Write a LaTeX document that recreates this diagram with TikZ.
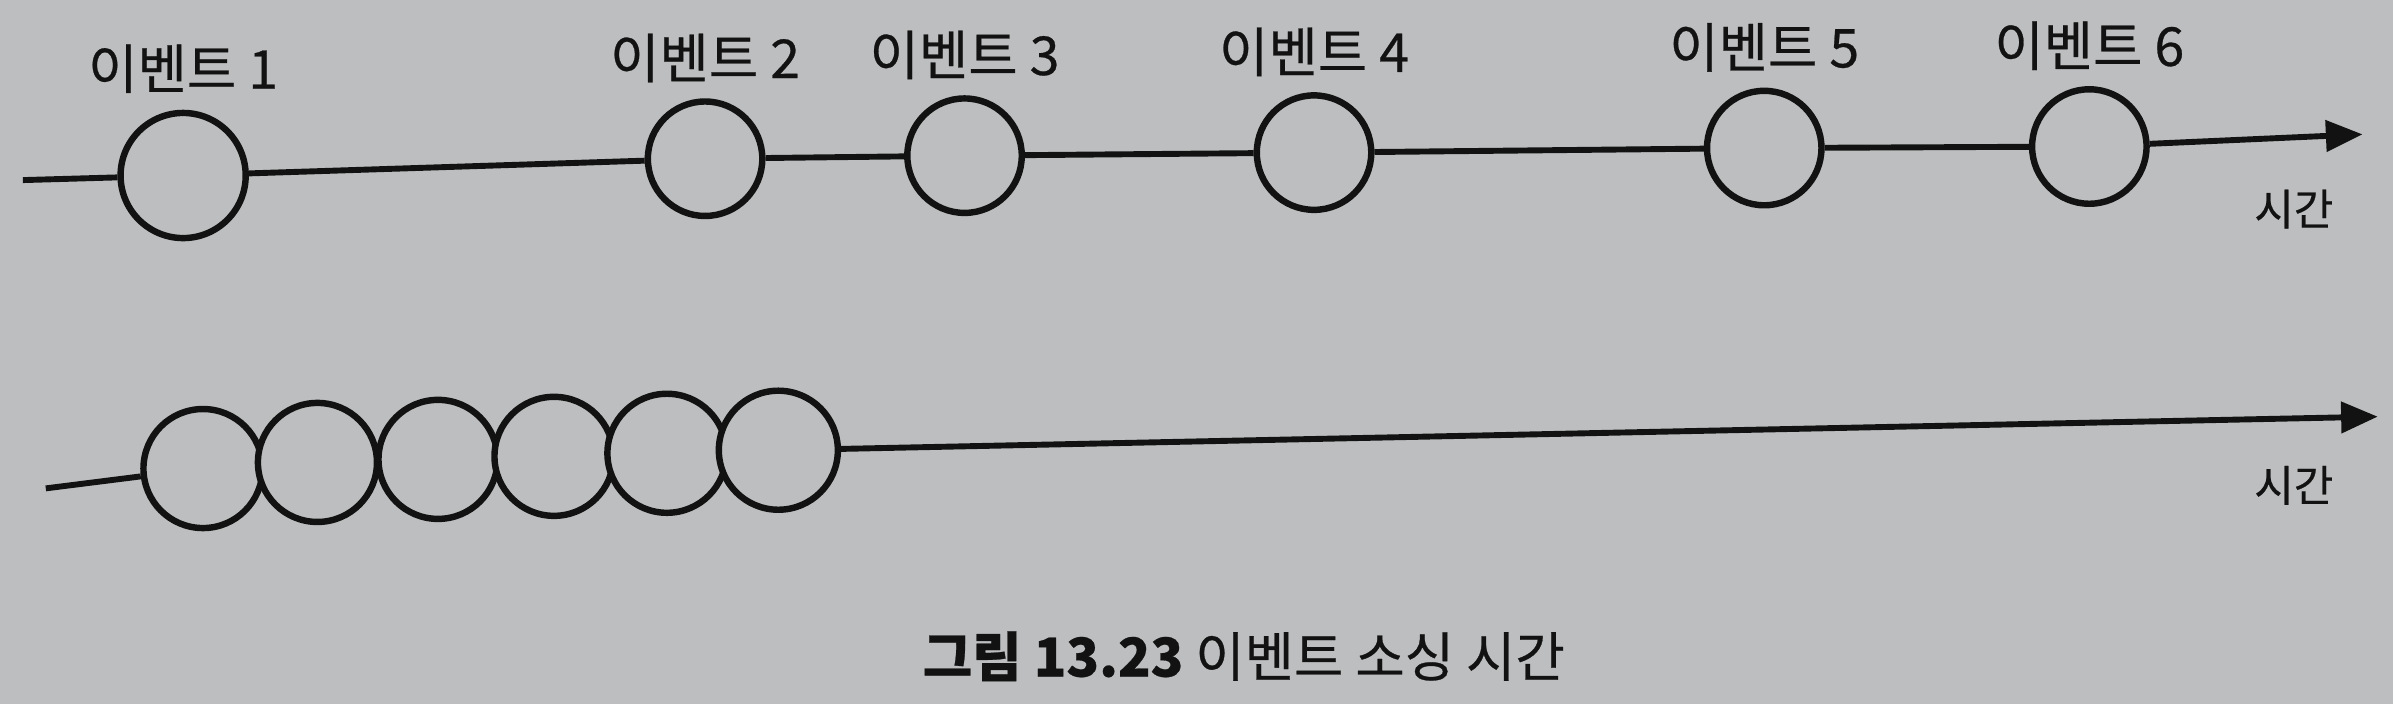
\documentclass[tikz,border=0pt]{standalone}
\usepackage{fontspec}
\setmainfont{Noto Sans CJK KR}[FakeBold=0.5]
\usepackage{tikz}
\usetikzlibrary{arrows.meta,shapes,positioning}
\definecolor{paper}{HTML}{BCBEBF}
\definecolor{ink}{HTML}{121212}
\tikzset{
	event/.style={circle,minimum size=7.5mm,inner sep=0pt,draw=ink,line width=1.2pt,fill=paper},
	burst/.style={circle,minimum size=7.8mm,inner sep=0pt,draw=ink,line width=1.2pt,fill=paper},
	%     event/.style={circle,minimum size=8mm,draw=ink,thick},
	node distance= 6.6mm,on grid,auto}

\begin{document}
\begin{tikzpicture}[->,>={Triangle[length=2.4mm,width=2mm]},line width=1.1pt,
		color=ink, on grid]
		
		\tikzstyle{ev label}=[font=\fontsize{10}{12}\selectfont,inner sep=0pt]
		\tikzstyle{time label}=[font=\fontsize{8}{9}\selectfont,inner sep=0pt,anchor=center]
		\tikzstyle{caption}=[font=\fontsize{10}{12}\selectfont,inner sep=0pt]
		
		\fill[paper,-] (0,0) rectangle (15.68,4.61);
		
		% top: spread out events
		\coordinate (s1) at (0.15,3.43);
		\node[event, minimum size=8.2mm] (e1) at (1.20,3.46) {};
		\node[event] (e2) at (4.62,3.57) {};
		\node[event] (e3) at (6.32,3.59) {};
		\node[event] (e4) at (8.61,3.61) {};
		\node[event] (e5) at (11.56,3.64) {};
		\node[event] (e6) at (13.69,3.65) {};
		\coordinate (t1) at (15.48,3.73);
		
		\node[ev label, above=7mm of e1] (l1) {이벤트 1};
		\node[ev label, above=of e2] (l2) {이벤트 2};
		\node[ev label, above=of e3] (l3) {이벤트 3};
		\node[ev label, above=of e4] (l4) {이벤트 4};
		\node[ev label, above=of e5] (l5) {이벤트 5};
		\node[ev label, above=of e6] (l6) {이벤트 6};
		\node[time label] (time1) at ([shift={(-4.5mm,-4.9mm)}]t1) {시간};
		
		% bottom: all events at once
		\coordinate (s2) at (0.30,1.41);
		\node[burst] (f1) at (1.33,1.54) {};
		\node[burst] (f2) at (2.08,1.58) {};
		\node[burst] (f3) at (2.87,1.60) {};
		\node[burst] (f4) at (3.63,1.62) {};
		\node[burst] (f5) at (4.37,1.64) {};
		\node[burst] (f6) at (5.10,1.66) {};
		\coordinate (t2) at (15.58,1.88);
		\node[time label] (time2) at ([shift={(-5.5mm,-4.5mm)}]t2) {시간};
		
		\node[caption] (cap) at (8.15,0.31) {\textbf{그림 13.23} 이벤트 소싱 시간};
		
		\path
		(s1) edge [-] (e1)
		(e1) edge [-] (e2)
		(e2) edge [-] (e3)
		(e3) edge [-] (e4)
		(e4) edge [-] (e5)
		(e5) edge [-] (e6)
		(e6) edge [] (t1)
		
		(s2) edge [-] (f1)
		(f6) edge [] (t2) ;
		
	\end{tikzpicture}
\end{document}
